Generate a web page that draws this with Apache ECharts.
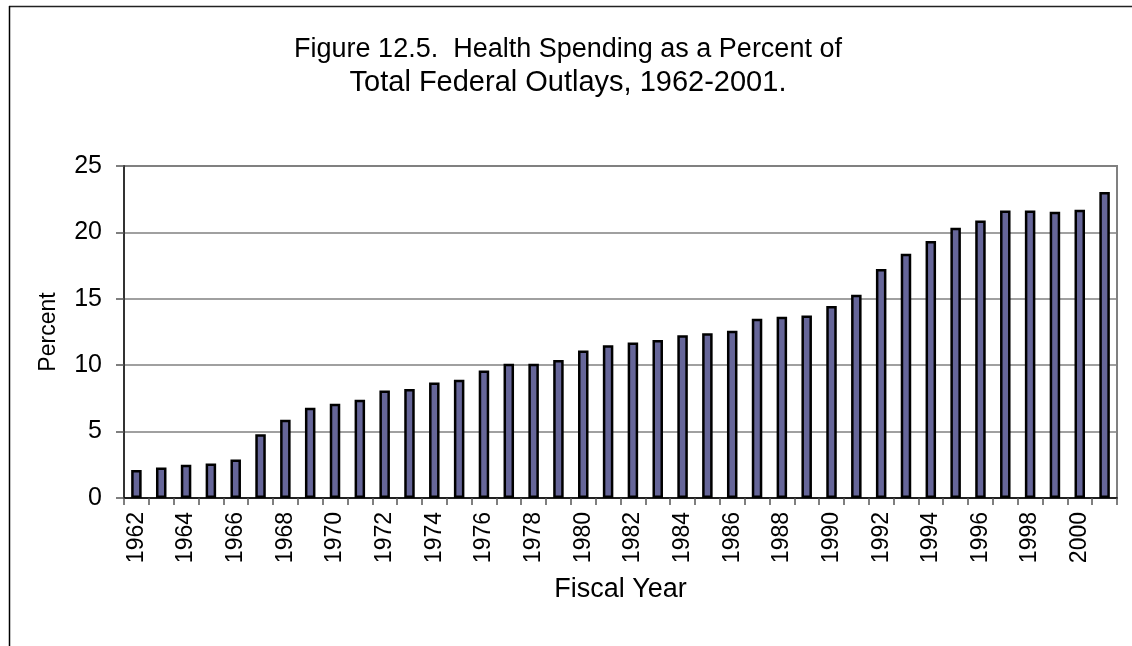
<!DOCTYPE html>
<html>
<head>
<meta charset="utf-8">
<script src="https://cdn.jsdelivr.net/npm/echarts@6/dist/echarts.min.js"></script>
<style>
html,body{margin:0;padding:0;background:#fff;}
#chart{width:1132px;height:646px;}
</style>
</head>
<body>
<div id="chart"></div>
<script>
const titleLines = ["Figure 12.5.  Health Spending as a Percent of", "Total Federal Outlays, 1962-2001."];
const years = ["1962","1963","1964","1965","1966","1967","1968","1969","1970","1971",
  "1972","1973","1974","1975","1976","1977","1978","1979","1980","1981",
  "1982","1983","1984","1985","1986","1987","1988","1989","1990","1991",
  "1992","1993","1994","1995","1996","1997","1998","1999","2000","2001"];
const healthPercent = [2.1,2.3,2.5,2.6,2.9,4.8,5.9,6.8,7.1,7.4,
  8.1,8.2,8.7,8.9,9.6,10.1,10.1,10.4,11.1,11.5,
  11.7,11.9,12.25,12.4,12.6,13.5,13.65,13.75,14.45,15.3,
  17.25,18.4,19.35,20.35,20.9,21.65,21.65,21.55,21.7,23.05];
const yTicks = [0,5,10,15,20,25];

const font = "Liberation Sans, Arial, sans-serif";
const chart = echarts.init(document.getElementById('chart'), null, {renderer:'canvas'});
chart.setOption({
  animation:false,
  backgroundColor:'#ffffff',
  title:[
    {text: titleLines[0], left: 563, top: 31, textAlign:'center',
     textStyle:{fontFamily:font, fontSize:27, fontWeight:'normal', color:'#000'}},
    {text: titleLines[1], left: 563, top: 63, textAlign:'center',
     textStyle:{fontFamily:font, fontSize:29, fontWeight:'normal', color:'#000'}}
  ],
  graphic:[
    {type:'line', shape:{x1:9, y1:6.5, x2:1132, y2:6.5}, style:{stroke:'#222', lineWidth:1.5}, silent:true},
    {type:'line', shape:{x1:9.5, y1:6, x2:9.5, y2:646}, style:{stroke:'#000', lineWidth:1.5}, silent:true}
  ],
  grid:{left:124, top:166, right:15, bottom:148, show:true, borderColor:'#808080', borderWidth:2, backgroundColor:'transparent'},
  xAxis:{
    type:'category', data:years, boundaryGap:true,
    name:'Fiscal Year', nameLocation:'middle', nameGap:78,
    nameTextStyle:{fontFamily:font, fontSize:27, color:'#000'},
    axisLine:{show:true, lineStyle:{color:'#000', width:1.5}},
    axisTick:{show:true, inside:false, length:7, interval:0, alignWithLabel:false, lineStyle:{color:'#555', width:1.5}},
    axisLabel:{interval:1, rotate:90, margin:14, fontFamily:font, fontSize:23, color:'#000'},
    splitLine:{show:false}
  },
  yAxis:{
    type:'value', min:yTicks[0], max:yTicks[yTicks.length-1], interval:5,
    name:'Percent', nameLocation:'middle', nameGap:64, nameRotate:90,
    nameTextStyle:{fontFamily:font, fontSize:23, color:'#000'},
    axisLine:{show:true, lineStyle:{color:'#333', width:2}},
    axisTick:{show:true, inside:false, length:8, lineStyle:{color:'#555', width:1.5}},
    axisLabel:{margin:22, fontFamily:font, fontSize:25, color:'#000'},
    splitLine:{show:true, lineStyle:{color:'#808080', width:1.5}}
  },
  series:[{
    type:'bar', data:healthPercent, barWidth:10.5,
    itemStyle:{color:'#666699', borderColor:'#000', borderWidth:2.5}
  }]
});
</script>
</body>
</html>
